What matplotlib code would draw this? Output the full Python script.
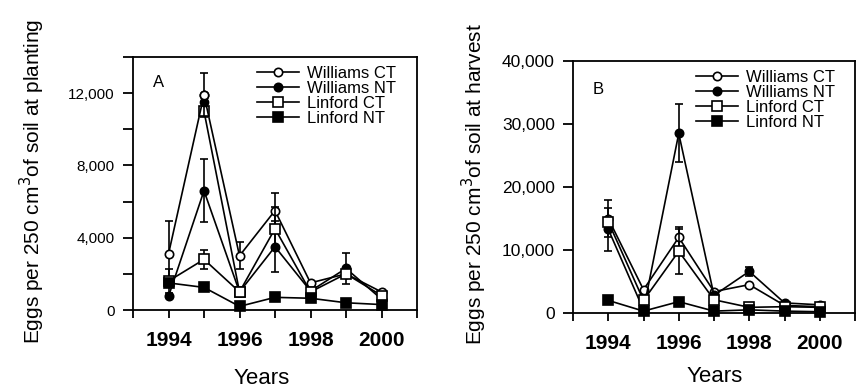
import numpy as np
import matplotlib.pyplot as plt
from matplotlib.ticker import MultipleLocator, FuncFormatter

plt.rcParams['font.family'] = ['Liberation Sans', 'DejaVu Sans']

years = [1994, 1995, 1996, 1997, 1998, 1999, 2000]
labels = ['Williams CT', 'Williams NT', 'Linford CT', 'Linford NT']

# A: eggs at planting
a_wct = [3100, 11900, 3000, 5500, 1500, 2000, 1000]
a_wct_err = [1800, 1200, 750, 1000, 0, 0, 0]
a_wnt = [750, 6600, 1000, 3500, 1050, 2300, 600]
a_wnt_err = [0, 1750, 0, 1400, 0, 850, 0]
a_lct = [1600, 2800, 1000, 4500, 1000, 2000, 800]
a_lct_err = [650, 520, 0, 1200, 0, 0, 0]
a_lnt = [1500, 1250, 200, 700, 650, 400, 300]
# extra points drawn at the 1995 peak
a_peak_years = [1995, 1996]
a_peak_sq = [11000, 1000]
a_peak_dot = [11500]

# B: eggs at harvest
b_wct = [15000, 3700, 12000, 3400, 4500, 1200, 1000]
b_wct_err = [3000, 0, 1600, 0, 0, 0, 0]
b_wnt = [13300, 500, 28500, 2800, 6600, 1600, 1300]
b_wnt_err = [3400, 0, 4600, 0, 700, 0, 0]
b_lct = [14500, 2000, 9800, 2100, 900, 1000, 900]
b_lct_err = [0, 0, 3600, 0, 0, 0, 0]
b_lnt = [2000, 300, 1800, 300, 500, 300, 200]

styles = [dict(marker='o', mfc='white', ms=6),
          dict(marker='o', mfc='black', ms=6),
          dict(marker='s', mfc='white', ms=6.5),
          dict(marker='s', mfc='black', ms=7.5)]


def draw(ax, series, errs):
    handles = []
    for vals, err, st, lab in zip(series, errs, styles, labels):
        if err is not None:
            ax.errorbar(years, vals, yerr=err, fmt='none', ecolor='black',
                        elinewidth=1.2, capsize=3, capthick=1.2, clip_on=False)
        ln, = ax.plot(years, vals, color='black', lw=1.2, mec='black',
                      mew=1.2, label=lab, clip_on=False, **st)
        handles.append(ln)
    return handles


def style_axes(ax, ymax, major, minor, ylab_size):
    ax.set_xlim(1993, 2001)
    ax.set_ylim(0, ymax)
    ax.xaxis.set_major_locator(MultipleLocator(2))
    ax.xaxis.set_minor_locator(MultipleLocator(1))
    ax.yaxis.set_major_locator(MultipleLocator(major))
    ax.yaxis.set_minor_locator(MultipleLocator(minor))
    ax.yaxis.set_major_formatter(FuncFormatter(lambda v, p: f'{int(v):,}'))
    for s in ax.spines.values():
        s.set_linewidth(1.3)
    ax.tick_params(which='both', direction='out', width=1.3, top=False, right=False)
    ax.tick_params(axis='x', which='both', length=6, pad=9)
    ax.tick_params(axis='y', which='both', length=7, pad=6)
    for t in ax.get_xticklabels():
        t.set_fontweight('bold')
        t.set_fontsize(15)
    for t in ax.get_yticklabels():
        t.set_fontsize(ylab_size)


fig = plt.figure(figsize=(8.56, 3.88), dpi=100)
axA = fig.add_axes([133 / 856, 1 - 310 / 388, 284 / 856, 253 / 388])
axB = fig.add_axes([573 / 856, 1 - 313 / 388, 282 / 856, 252 / 388])

hA = draw(axA, [a_wct, a_wnt, a_lct, a_lnt], [a_wct_err, a_wnt_err, a_lct_err, None])
axA.plot(a_peak_years, a_peak_sq, color='black', lw=1.2, marker='s',
         mfc='white', mec='black', ms=6.5, mew=1.2, zorder=1)
axA.plot([1995], a_peak_dot, ls='none', marker='o', mfc='black', mec='black', ms=6)
axA.plot([1995], [a_wct[1]], ls='none', marker='o', mfc='white', mec='black', ms=6, mew=1.2)
style_axes(axA, 14000, 4000, 2000, 11)

hB = draw(axB, [b_wct, b_wnt, b_lct, b_lnt], [b_wct_err, b_wnt_err, b_lct_err, None])
style_axes(axB, 40000, 10000, 10000, 12.5)

for ax, h in [(axA, hA), (axB, hB)]:
    ax.legend(handles=h, loc='upper left', bbox_to_anchor=(0.42, 0.985), frameon=False,
              fontsize=12, handlelength=2.5, handletextpad=0.5,
              labelspacing=0.0, borderpad=0.3, borderaxespad=0.0)

axA.text(0.07, 0.88, 'A', transform=axA.transAxes, fontsize=12)
axB.text(0.07, 0.87, 'B', transform=axB.transAxes, fontsize=12)

fig.text(32 / 856, 1 - 181 / 388, 'Eggs per 250 cm$^3$of soil at planting',
         rotation=90, ha='center', va='center', fontsize=15)
fig.text(474 / 856, 1 - 184 / 388, 'Eggs per 250 cm$^3$of soil at harvest',
         rotation=90, ha='center', va='center', fontsize=15)
fig.text(262 / 856, 1 - 378 / 388, 'Years', ha='center', va='center', fontsize=16)
fig.text(715 / 856, 1 - 377 / 388, 'Years', ha='center', va='center', fontsize=16)

fig.savefig('out.png', dpi=100)
